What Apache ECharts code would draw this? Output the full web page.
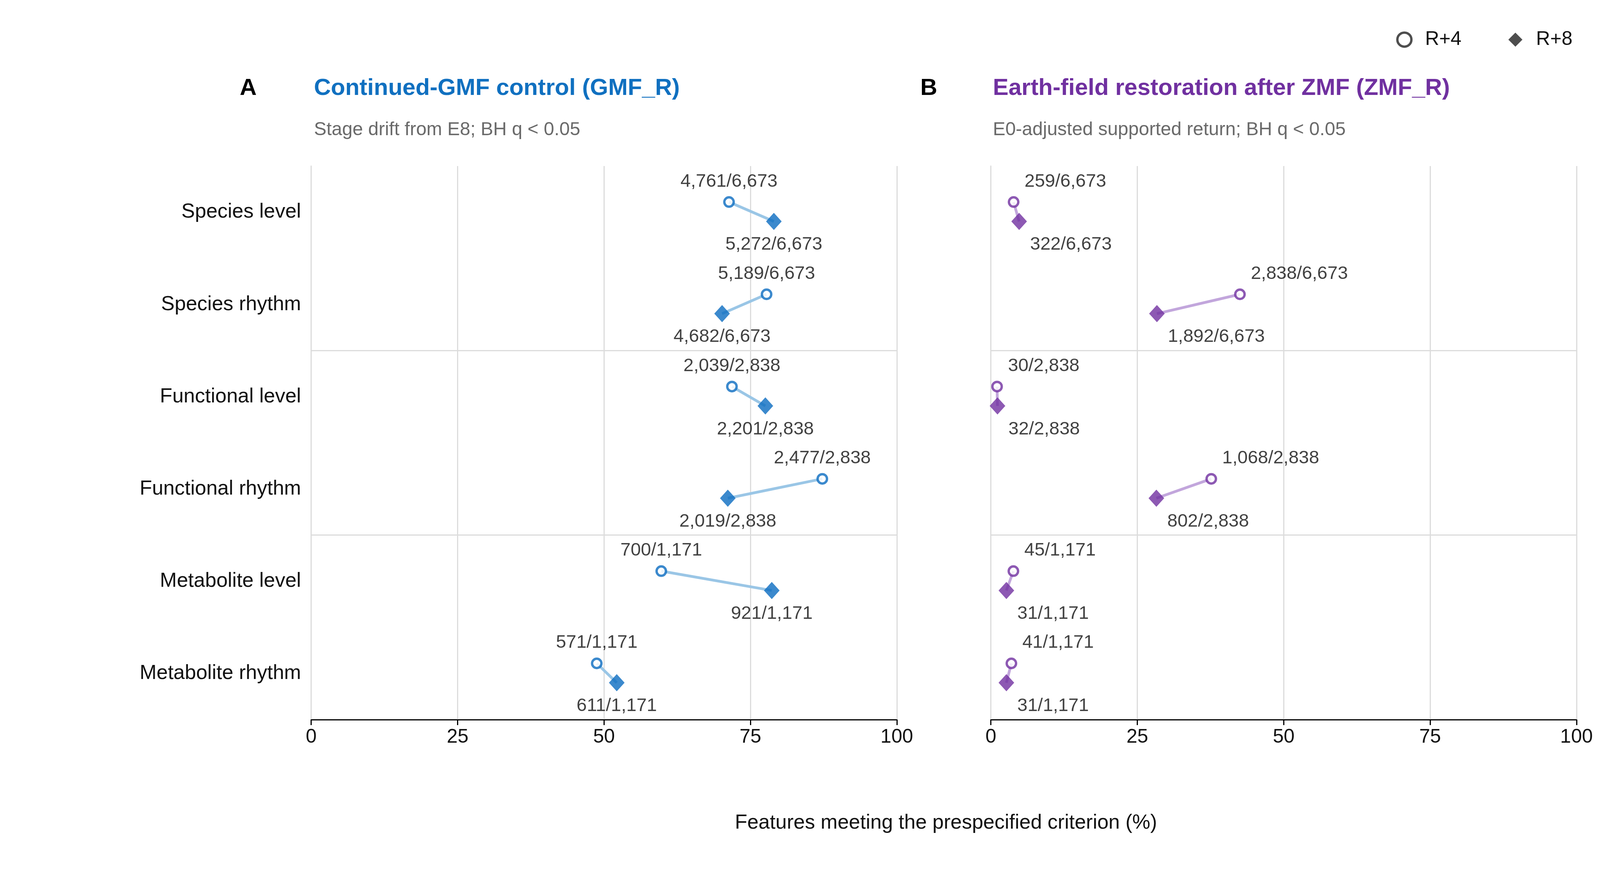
<!DOCTYPE html>
<html>
<head>
<meta charset="utf-8">
<script src="https://cdn.jsdelivr.net/npm/echarts@6/dist/echarts.min.js"></script>
<style>html,body{margin:0;background:#fff;overflow:hidden}#container{width:100vw;height:100vh}</style>
</head>
<body>
<div id="container"></div>
<script>
!function(win){
    var rows = ['Species level','Species rhythm','Functional level','Functional rhythm','Metabolite level','Metabolite rhythm']
    // [R+4 count, R+8 count, total]
    var gmf = [[4761,5272,6673],[5189,4682,6673],[2039,2201,2838],[2477,2019,2838],[700,921,1171],[571,611,1171]]
    var zmf = [[259,322,6673],[2838,1892,6673],[30,32,2838],[1068,802,2838],[45,31,1171],[41,31,1171]]
    var F = 'Arial, "Liberation Sans", sans-serif'

    function fmt(n){ return n.toLocaleString('en-US') }

    function panel(data, idx, mk, ln, centered){
        var p4 = [], p8 = [], links = []
        for(let i = 0; i < data.length; i++){
            var d = data[i]
            var a = d[0] / d[2] * 100, b = d[1] / d[2] * 100
            p4.push({value:[a, i - 0.11], txt: fmt(d[0]) + '/' + fmt(d[2])})
            p8.push({value:[b, i + 0.10], txt: fmt(d[1]) + '/' + fmt(d[2])})
            links.push({coords:[[a, i - 0.11],[b, i + 0.10]]})
        }
        var lab = function(pos){
            return {
                show:true, position:pos, distance:14,
                align: centered ? 'center' : 'left',
                offset: centered ? [0,0] : [28, 0],
                fontSize:47, fontFamily:F, color:'#111',
                formatter:function(p){ return p.data.txt }
            }
        }
        return [{
            type:'lines', coordinateSystem:'cartesian2d', xAxisIndex:idx, yAxisIndex:idx*2,
            data:links, lineStyle:{color:ln, width:7, opacity:1}, z:2,
            markLine:{silent:true, symbol:'none', label:{show:false},
                lineStyle:{color:'#dcdcdc', width:3, type:'solid'},
                data:[{yAxis:1.5},{yAxis:3.5}]}
        },{
            type:'scatter', xAxisIndex:idx, yAxisIndex:idx*2, data:p4,
            symbol:'circle', symbolSize:24, z:3,
            itemStyle:{color:'#fff', borderColor:mk, borderWidth:6},
            label:lab('top')
        },{
            type:'scatter', xAxisIndex:idx, yAxisIndex:idx*2, data:p8,
            symbol:'diamond', symbolSize:[40,44], z:4,
            itemStyle:{color:mk},
            label:lab('bottom')
        }]
    }

    function xAx(gi){
        return {
            type:'value', gridIndex:gi, min:0, max:100, interval:25,
            axisLine:{show:true, onZero:false, lineStyle:{color:'#000', width:3}},
            axisTick:{show:true, length:14, lineStyle:{color:'#000', width:3}},
            axisLabel:{fontSize:50, fontFamily:F, color:'#111', margin:20},
            splitLine:{show:true, lineStyle:{color:'#dcdcdc', width:3}}
        }
    }
    function yAx(gi, show){
        return [{
            type:'value', gridIndex:gi, min:-0.5, max:5.5, inverse:true,
            axisLine:{show:false}, axisTick:{show:false}, axisLabel:{show:false}, splitLine:{show:false}
        },{
            type:'category', gridIndex:gi, data:rows, inverse:true, position:'left',
            axisLine:{show:true, onZero:false, lineStyle:{color:'#dcdcdc', width:3}}, axisTick:{show:false},
            axisLabel:{show:show, fontSize:52, fontFamily:F, color:'#111', margin:26},
            splitLine:{show:false}
        }]
    }

    var myChart = echarts.init(document.getElementById('container'))
    var option = {
        backgroundColor:'#fff',
        animation:false,
        grid:[
            {left:'19.45%', width:'36.6%', top:'19.04%', height:'63.49%'},
            {left:'61.93%', width:'36.6%', top:'19.04%', height:'63.49%'}
        ],
        xAxis:[xAx(0), xAx(1)],
        yAxis:yAx(0, true).concat(yAx(1, false)),
        title:[
            {text:'A', left:'14.86%', top:'8.6%', textStyle:{fontSize:60, fontWeight:'bold', color:'#000', fontFamily:F}},
            {text:'Continued-GMF control (GMF_R)', left:'19.5%', top:'8.6%', textStyle:{fontSize:60, fontWeight:'bold', color:'#1070c0', fontFamily:F}},
            {text:'Stage drift from E8; BH q < 0.05', left:'19.5%', top:'13.6%', textStyle:{fontSize:48, fontWeight:'normal', color:'#6a6a6a', fontFamily:F}},
            {text:'B', left:'57.4%', top:'8.6%', textStyle:{fontSize:60, fontWeight:'bold', color:'#000', fontFamily:F}},
            {text:'Earth-field restoration after ZMF (ZMF_R)', left:'61.93%', top:'8.6%', textStyle:{fontSize:60, fontWeight:'bold', color:'#7030a0', fontFamily:F}},
            {text:'E0-adjusted supported return; BH q < 0.05', left:'61.93%', top:'13.6%', textStyle:{fontSize:48, fontWeight:'normal', color:'#6a6a6a', fontFamily:F}},
            {text:'Features meeting the prespecified criterion (%)', left:'59%', textAlign:'center', top:'93%', textStyle:{fontSize:52, fontWeight:'normal', color:'#111', fontFamily:F}}
        ],
        legend:{
            right:'1.6%', top:'3.2%', itemGap:120, itemWidth:36, itemHeight:36,
            textStyle:{fontSize:50, fontFamily:F, color:'#111', padding:[0,0,0,30]},
            data:[
                {name:'R+4', icon:'circle', itemStyle:{color:'#fff', borderColor:'#222', borderWidth:6}},
                {name:'R+8', icon:'diamond', itemStyle:{color:'#222'}}
            ]
        },
        series:[]
    }
    var a = panel(gmf, 0, '#0a6cc0', '#9ac6e6', true)
    var b = panel(zmf, 1, '#7030a0', '#c2a6dc', false)
    a[1].name = 'R+4'; a[2].name = 'R+8'
    option.series = a.concat(b)
    myChart.setOption(option, true)
}(this)
</script>
</body>
</html>
